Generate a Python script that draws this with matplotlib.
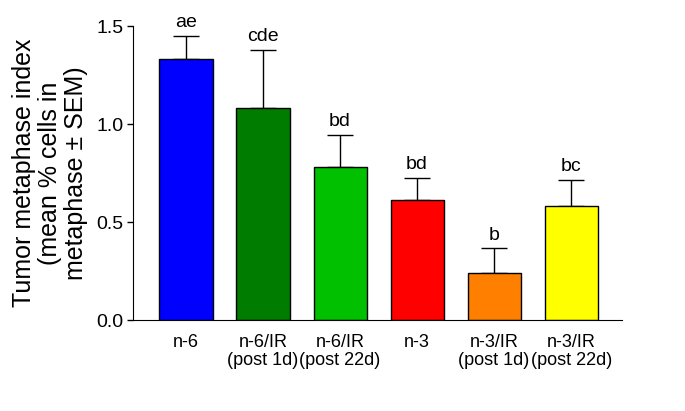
import matplotlib
matplotlib.use("Agg")
import matplotlib.pyplot as plt

groups = ["n-6", "n-6/IR\n(post 1d)", "n-6/IR\n(post 22d)", "n-3", "n-3/IR\n(post 1d)", "n-3/IR\n(post 22d)"]
means = [1.33, 1.08, 0.78, 0.61, 0.24, 0.58]
sems = [0.12, 0.30, 0.165, 0.115, 0.125, 0.135]
letters = ["ae", "cde", "bd", "bd", "b", "bc"]
colors = ["#0000ff", "#007c00", "#00c000", "#ff0000", "#ff8000", "#ffff00"]

plt.rcParams['font.family'] = ['Liberation Sans', 'DejaVu Sans']

fig = plt.figure(figsize=(6.85, 4.11), dpi=100)
ax = fig.add_axes([0.194, 0.2214, 0.714, 0.7153])

x = list(range(len(groups)))
ax.bar(x, means, width=0.69, color=colors, edgecolor="black", linewidth=1, zorder=2)
ax.errorbar(x, means, yerr=[[0] * len(sems), sems], fmt="none", ecolor="black",
            elinewidth=1, capsize=9.5, capthick=1, zorder=1)

for xi, m, s, lab in zip(x, means, sems, letters):
    ax.text(xi, m + s + 0.025, lab, ha="center", va="bottom", fontsize=14)

ax.set_xlim(-0.69, 5.66)
ax.set_ylim(0, 1.5)
ax.set_yticks([0.0, 0.5, 1.0, 1.5])
ax.set_yticklabels(["0.0", "0.5", "1.0", "1.5"], fontsize=14)
ax.set_xticks(x)
ax.set_xticklabels(groups, fontsize=13, linespacing=1.05)
ax.tick_params(axis="x", length=0, pad=10)
ax.tick_params(axis="y", length=4, width=1, direction="out", pad=3)
ax.spines["top"].set_visible(False)
ax.spines["right"].set_visible(False)
ax.set_ylabel("Tumor metaphase index\n(mean % cells in\nmetaphase ± SEM)", fontsize=18,
              linespacing=1.1, labelpad=6)

fig.savefig("out.png", dpi=100)
